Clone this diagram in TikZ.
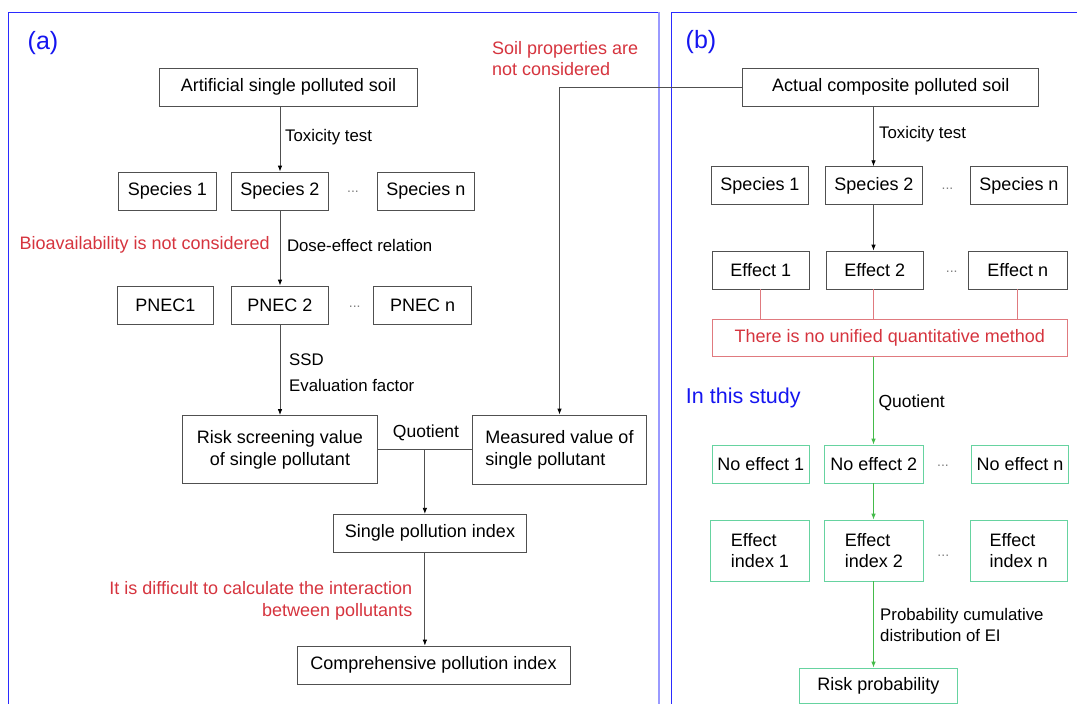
\documentclass[tikz,border=0pt]{standalone}
\usepackage{fontspec}
\setmainfont{Liberation Sans}
\usetikzlibrary{arrows.meta,calc}
\definecolor{boxgray}{HTML}{505050}
\definecolor{redtxt}{HTML}{D6343E}
\definecolor{redline}{HTML}{E07A7F}
\definecolor{greenbox}{HTML}{66D3A0}
\definecolor{greenarr}{HTML}{44BB4A}
\definecolor{panelblue}{HTML}{2B2BFF}
\definecolor{panellight}{HTML}{9A9AFF}
\definecolor{labelblue}{HTML}{1515F0}
\begin{document}
\begin{tikzpicture}[x=1pt,y=-1pt,
  sz/.style 2 args={minimum width=#1pt,minimum height=#2pt},
  box/.style={draw=boxgray, line width=0.8pt, inner sep=0pt, align=center, font=\fontsize{18}{21.7}\selectfont},
  gbox/.style={box, draw=greenbox},
  rbox/.style={box, draw=redline, text=redtxt},
  lbl/.style={inner sep=0pt, anchor=west, align=left, font=\fontsize{16.8}{21}\selectfont},
  rtxt/.style={inner sep=0pt, text=redtxt, font=\fontsize{18}{21.7}\selectfont},
  btxt/.style={inner sep=0pt, text=labelblue, font=\fontsize{25}{29}\selectfont},
  dotlbl/.style={inner sep=0pt, text=gray, font=\fontsize{14}{16}\selectfont},
  arr/.style={draw=boxgray, line width=0.8pt, -{Latex[length=6pt,width=4.5pt,black]}},
  garr/.style={draw=greenarr, line width=0.8pt, -{Latex[length=6pt,width=4.5pt]}},
  rline/.style={draw=redline, line width=0.8pt},
  conn/.style={draw=boxgray, line width=0.8pt},
]
\useasboundingbox (0,0) rectangle (1077,704);
\fill[white] (0,0) rectangle (1077,704);
% panels
\draw[panelblue, line width=0.8pt] (8,710) -- (8,12) -- (658,12);
\draw[panellight, line width=1.6pt] (659,12) -- (659,710);
\draw[panelblue, line width=0.8pt] (671,710) -- (671,12) -- (1090,12);

\node[btxt] (la) at (43,43) {(a)};
\node[btxt] (lb) at (701,42) {(b)};

% ---------- panel (a)
\node[box, sz={258}{38}] (art) at (288.5,87.2) {Artificial single polluted soil};
\node[box, sz={97.5}{38}] (sp1a) at (167.5,191) {Species 1};
\node[box, sz={97}{38}] (sp2a) at (280,191) {Species 2};
\node[dotlbl] (da1) at (353,192) {...};
\node[box, sz={97.5}{38}] (spna) at (425.8,191) {Species n};

\node[box, sz={96.5}{38}] (pn1) at (165.3,305) {PNEC1};
\node[box, sz={97}{38}] (pn2) at (280,305) {PNEC 2};
\node[dotlbl] (da2) at (354.7,307) {...};
\node[box, sz={98}{38}] (pnn) at (422.7,305) {PNEC n};

\node[box, sz={195}{68}] (risk) at (280,449.5) {Risk screening value\\of single pollutant};
\node[box, sz={174.5}{69}, align=left] (meas) at (559.5,449.5) {Measured value of\\single pollutant};
\node[box, sz={193.7}{38}] (single) at (430,533.3) {Single pollution index};
\node[box, sz={273}{38}] (comp) at (433.5,665) {Comprehensive pollution index};

\node[lbl] (tta) at (285,137) {Toxicity test};
\node[rtxt, anchor=east] (bio) at (270,245) {Bioavailability is not considered};
\node[lbl] (dose) at (286.8,245) {Dose-effect relation};
\node[lbl] (ssd) at (289,359.3) {SSD};
\node[lbl] (evf) at (289,385.7) {Evaluation factor};
\node[lbl, anchor=center, font=\fontsize{17.5}{21}\selectfont] (quoa) at (426,433) {Quotient};
\node[rtxt, anchor=east, align=right] (diff) at (412.5,601) {It is difficult to calculate the interaction\\between pollutants};
\node[rtxt, anchor=west, align=left] (soil) at (492,58.5) {Soil properties are\\not considered};

\draw[arr] (sp2a.north |- art.south) -- (sp2a.north);
\draw[arr] (sp2a.south) -- (pn2.north);
\draw[arr] (pn2.south) -- (risk.north);
\draw[conn] (risk.east) -- (meas.west);
\coordinate (qj) at ($(risk.east)!0.5!(meas.west)$);
\draw[arr] (qj) -- (qj |- single.north);
\draw[arr] (qj |- single.south) -- (qj |- comp.north);

% ---------- panel (b)
\node[box, sz={296}{38}] (act) at (890.8,87.2) {Actual composite polluted soil};
\coordinate (colb) at (873.5,0);
\node[box, sz={97.6}{38}] (sp1b) at (760,185.7) {Species 1};
\node[box, sz={97.6}{38}] (sp2b) at (874,185.7) {Species 2};
\node[dotlbl] (db1) at (947.5,189) {...};
\node[box, sz={97}{38}] (spnb) at (1019,185.7) {Species n};

\node[box, sz={96.7}{38}] (e1) at (760.7,270) {Effect 1};
\node[box, sz={97.3}{38}] (e2) at (874.7,270) {Effect 2};
\node[dotlbl] (db2) at (951.7,272) {...};
\node[box, sz={99}{38}] (en) at (1017.8,270) {Effect n};

\node[rbox, sz={355}{37}] (red) at (889.8,337.7) {There is no unified quantitative method};

\node[gbox, sz={96.7}{38}] (ne1) at (760.7,464) {No effect 1};
\node[gbox, sz={99}{38}] (ne2) at (873.8,464) {No effect 2};
\node[dotlbl] (db3) at (943,466) {...};
\node[gbox, sz={96.7}{38}] (nen) at (1020,464) {No effect n};

\node[gbox, sz={98.7}{61}, align=left] (ei1) at (760,550.5) {Effect\\index 1};
\node[gbox, sz={99}{61}, align=left] (ei2) at (873.8,550.5) {Effect\\index 2};
\node[dotlbl] (db4) at (943.3,556) {...};
\node[gbox, sz={97.3}{61}, align=left] (ein) at (1018.7,550.5) {Effect\\index n};

\node[gbox, sz={158}{35}] (rp) at (878.3,685.5) {Risk probability};

\node[lbl] (ttb) at (879,134) {Toxicity test};
\node[btxt, font=\fontsize{21.5}{25}\selectfont] (study) at (743.3,398.3) {In this study};
\node[lbl, font=\fontsize{17.5}{21}\selectfont] (quob) at (878.3,402.7) {Quotient};
\node[lbl] (prob) at (880,624.5) {Probability cumulative\\distribution of EI};

\draw[arr] (act.west) -| (meas.north);
\draw[arr] (colb |- act.south) -- (colb |- sp2b.north);
\draw[arr] (colb |- sp2b.south) -- (colb |- e2.north);
\draw[rline] (e1.south) -- (e1.south |- red.north);
\draw[rline] (colb |- e2.south) -- (colb |- red.north);
\draw[rline] (en.south) -- (en.south |- red.north);
\draw[garr] (colb |- red.south) -- (colb |- ne2.north);
\draw[garr] (colb |- ne2.south) -- (colb |- ei2.north);
\draw[garr] (colb |- ei2.south) -- (colb |- rp.north);
\end{tikzpicture}
\end{document}
